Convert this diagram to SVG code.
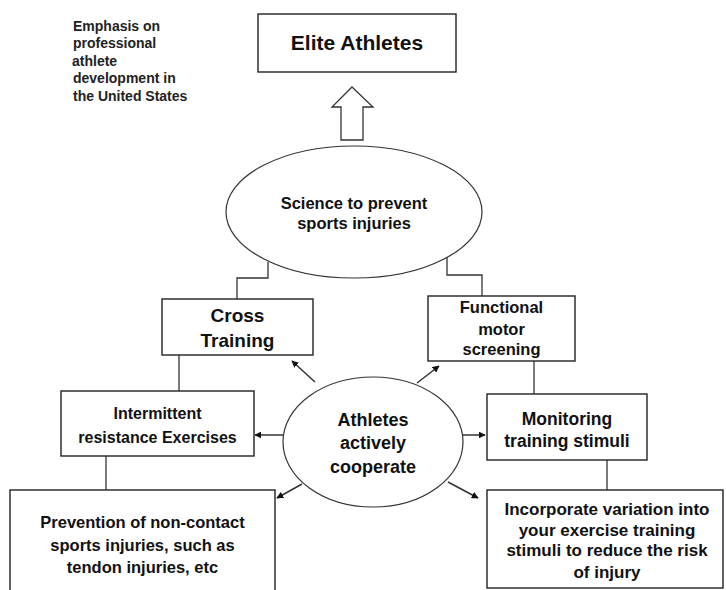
<svg xmlns="http://www.w3.org/2000/svg" width="726" height="590" viewBox="0 0 726 590">
<style>
.box{fill:#fff;stroke:#222;stroke-width:1.4}
.ell{fill:#fff;stroke:#333;stroke-width:1.2}
.t{font-family:"Liberation Sans",Arial,sans-serif;font-weight:bold;fill:#111;text-anchor:middle}
.em{font-family:"Liberation Sans",Arial,sans-serif;font-weight:bold;fill:#222;font-size:14px}
.ln{fill:none;stroke:#333;stroke-width:1.3}
.ar{fill:none;stroke:#333;stroke-width:1.5;marker-end:url(#ah)}
</style>
<defs>
<marker id="ah" viewBox="0 0 10 10" refX="9" refY="5" markerWidth="7" markerHeight="7" markerUnits="userSpaceOnUse" orient="auto">
<path d="M0,0 L10,5 L0,10 z" fill="#111"/>
</marker>
</defs>
<rect width="726" height="590" fill="#fff"/>
<g id="note">
<text class="em" x="73" y="31">Emphasis on</text>
<text class="em" x="73" y="48">professional</text>
<text class="em" x="72" y="66">athlete</text>
<text class="em" x="73" y="83">development in</text>
<text class="em" x="73" y="101">the United States</text>
</g>
<g id="connectors">
<polygon points="352,87 373,107 363,107 363,140 341,140 341,107 332,107" fill="#fff" stroke="#333" stroke-width="1.3"/>
<polyline class="ln" points="268,262 268,278 237,278 237,299"/>
<polyline class="ln" points="447,257 447,275 482,275 482,296"/>
<line class="ln" x1="179" y1="355" x2="179" y2="391"/>
<line class="ln" x1="106" y1="456" x2="106" y2="490"/>
<line class="ln" x1="534" y1="361" x2="534" y2="394"/>
<line class="ln" x1="607" y1="460" x2="607" y2="490"/>
<line class="ar" x1="315" y1="382" x2="292" y2="361"/>
<line class="ar" x1="417" y1="383" x2="439" y2="366"/>
<line class="ar" x1="283" y1="435" x2="255" y2="435"/>
<line class="ar" x1="463" y1="435" x2="485" y2="435"/>
<line class="ar" x1="302" y1="484" x2="277" y2="498"/>
<line class="ar" x1="448" y1="482" x2="478" y2="498"/>
</g>
<g id="elite">
<rect class="box" x="258" y="14" width="198" height="58"/>
<text class="t" x="357" y="50" font-size="21">Elite Athletes</text>
</g>
<g id="science">
<ellipse class="ell" cx="354" cy="212" rx="128" ry="66"/>
<text class="t" x="354" y="209" font-size="16.5">Science to prevent</text>
<text class="t" x="354" y="229" font-size="16.5">sports injuries</text>
</g>
<g id="cross">
<rect class="box" x="162" y="299" width="151" height="56"/>
<text class="t" x="237.5" y="322" font-size="19">Cross</text>
<text class="t" x="237.5" y="347" font-size="19">Training</text>
</g>
<g id="functional">
<rect class="box" x="428" y="296" width="147" height="65"/>
<text class="t" x="501.5" y="313" font-size="16.5">Functional</text>
<text class="t" x="501.5" y="335" font-size="16.5">motor</text>
<text class="t" x="501.5" y="355" font-size="16.5">screening</text>
</g>
<g id="athletes">
<ellipse class="ell" cx="373" cy="442" rx="90" ry="65"/>
<text class="t" x="373" y="426" font-size="18">Athletes</text>
<text class="t" x="373" y="449" font-size="18">actively</text>
<text class="t" x="373" y="473" font-size="18">cooperate</text>
</g>
<g id="intermittent">
<rect class="box" x="61" y="391" width="193" height="65"/>
<text class="t" x="157.5" y="419" font-size="16">Intermittent</text>
<text class="t" x="157.5" y="443" font-size="16">resistance Exercises</text>
</g>
<g id="monitoring">
<rect class="box" x="487" y="394" width="160" height="66"/>
<text class="t" x="567" y="425" font-size="17.5">Monitoring</text>
<text class="t" x="567" y="447" font-size="17.5">training stimuli</text>
</g>
<g id="prevention">
<rect class="box" x="10" y="490" width="265" height="120"/>
<text class="t" x="142.5" y="528" font-size="16.5">Prevention of non-contact</text>
<text class="t" x="142.5" y="551" font-size="16.5">sports injuries, such as</text>
<text class="t" x="142.5" y="573" font-size="16.5">tendon injuries, etc</text>
</g>
<g id="incorporate">
<rect class="box" x="487" y="490" width="236" height="98"/>
<text class="t" x="607" y="515" font-size="17">Incorporate variation into</text>
<text class="t" x="607" y="536" font-size="17">your exercise training</text>
<text class="t" x="607" y="556" font-size="17">stimuli to reduce the risk</text>
<text class="t" x="607" y="578" font-size="17">of injury</text>
</g>
</svg>
